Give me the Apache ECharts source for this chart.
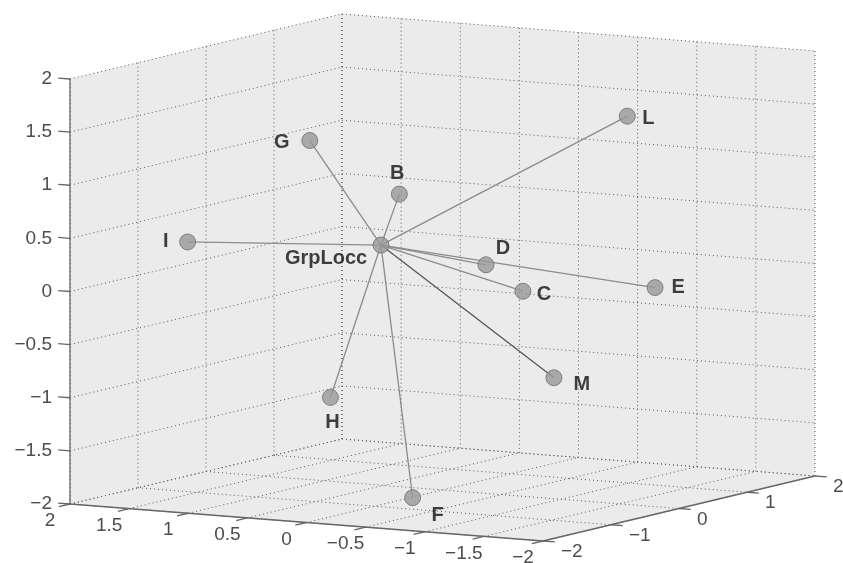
<!DOCTYPE html>
<html><head><meta charset="utf-8">
<script src="https://cdn.jsdelivr.net/npm/echarts@6/dist/echarts.min.js"></script>
<style>html,body{margin:0;padding:0;background:#fff}#c{width:843px;height:563px}</style>
</head><body><div id="c"></div>
<script>
// ---- data ----
const nodeNames = ['GrpLocc', 'G', 'B', 'I', 'L', 'D', 'C', 'E', 'M', 'H', 'F'];
const nodeX = [0.52, 1.41, 0.94, 1.58, -0.70, -0.08, -0.68, -1.51, -1.23, 0.66, -0.61];
const nodeY = [0.00, 0.50, 1.00, -1.00, 1.50, 0.50, 0.00, 0.50, -0.50, -0.50, -1.50];
const nodeZ = [0.26, 1.09, 0.55, 0.35, 1.35, 0.05, -0.07, -0.04, -0.76, -1.11, -1.79];
const edgeFrom = 'GrpLocc';
const edgeTo = ['G', 'B', 'I', 'L', 'D', 'E', 'C', 'M', 'H', 'F'];
const xTicks = [2, 1.5, 1, 0.5, 0, -0.5, -1, -1.5, -2];
const yTicks = [-2, -1, 0, 1, 2];
const zTicks = [-2, -1.5, -1, -0.5, 0, 0.5, 1, 1.5, 2];
const xLim = [-2, 2], yLim = [-2, 2], zLim = [-2, 2];

// ---- view (orthographic projection of 3D data onto the 2D plane) ----
const VIEW = { ux: -1.11294, uy: 0.64, vx: 0.08706, vy: 0.15294, vz: 1 };
const U_RANGE = [-4.16471, 3.76941], V_RANGE = [-2.68706, 2.61176];
function proj(x, y, z) { return [VIEW.ux * x + VIEW.uy * y, VIEW.vx * x + VIEW.vy * y + VIEW.vz * z]; }

// label placement (pixel offsets from the node centre)
const labelOffsets = {
  GrpLocc: [-55, 13], G: [-28, 2], B: [-2, -21], I: [-22, 0], L: [21, 2], D: [17, -16],
  C: [21, 3], E: [23, 0], M: [28, 7], H: [2, 25], F: [25, 18]
};
const FONT = "'Liberation Sans', Arial, Helvetica, sans-serif";
const fmt = v => String(v).replace('-', '\u2212');

const X0 = xLim[1], X1 = xLim[0], Y0 = yLim[0], Y1 = yLim[1], Z0 = zLim[0], Z1 = zLim[1];

// panes
const planes = [
  [[X0, Y0, Z0], [X0, Y1, Z0], [X0, Y1, Z1], [X0, Y0, Z1]],
  [[X0, Y1, Z0], [X1, Y1, Z0], [X1, Y1, Z1], [X0, Y1, Z1]],
  [[X0, Y0, Z0], [X1, Y0, Z0], [X1, Y1, Z0], [X0, Y1, Z0]]
];

// grid segments
const grid = [];
xTicks.forEach(x => { grid.push([[x, Y1, Z0], [x, Y1, Z1]]); grid.push([[x, Y0, Z0], [x, Y1, Z0]]); });
yTicks.forEach(y => { grid.push([[X0, y, Z0], [X0, y, Z1]]); grid.push([[X0, y, Z0], [X1, y, Z0]]); });
zTicks.forEach(z => { grid.push([[X0, Y1, z], [X1, Y1, z]]); grid.push([[X0, Y0, z], [X0, Y1, z]]); });

const axes = [
  [[X0, Y0, Z0], [X0, Y0, Z1]],
  [[X0, Y0, Z0], [X1, Y0, Z0]],
  [[X1, Y0, Z0], [X1, Y1, Z0]]
];
const TL = 0.1, TLY = 0.165;
const ticks = [];
zTicks.forEach(z => ticks.push([[X0, Y0, z], [X0 + TL, Y0, z]]));
xTicks.forEach(x => ticks.push([[x, Y0, Z0], [x, Y0 - TLY, Z0]]));
yTicks.forEach(y => ticks.push([[X1, y, Z0], [X1 - TL, y, Z0]]));

function segData(list) {
  return list.map(s => { const a = proj(...s[0]), b = proj(...s[1]); return [a[0], a[1], b[0], b[1]]; });
}
function segSeries(list, stroke, width, dash, z) {
  return {
    type: 'custom', silent: true, clip: false, z: z, animation: false,
    encode: { x: [0, 2], y: [1, 3] },
    data: segData(list),
    renderItem: (p, api) => {
      const a = api.coord([api.value(0), api.value(1)]), b = api.coord([api.value(2), api.value(3)]);
      return { type: 'line', shape: { x1: a[0], y1: a[1], x2: b[0], y2: b[1] },
        style: { stroke: stroke, lineWidth: width, lineDash: dash } };
    }
  };
}

const planeSeries = {
  type: 'custom', silent: true, clip: false, z: 1, animation: false,
  data: planes.map((pl, i) => [i]),
  renderItem: (p, api) => {
    const pl = planes[api.value(0)];
    const pts = pl.map(c => api.coord(proj(...c)));
    return { type: 'polygon', shape: { points: pts }, style: { fill: '#ebebeb', stroke: '#ebebeb', lineWidth: 0.5 } };
  }
};

// tick labels
const tickLabels = [];
xTicks.forEach(x => tickLabels.push({ p: proj(x, Y0, Z0), t: fmt(x), dx: -20, dy: 17, al: 'center' }));
yTicks.forEach(y => tickLabels.push({ p: proj(X1, y, Z0), t: fmt(y), dx: 18, dy: 11, al: 'left' }));
zTicks.forEach(z => tickLabels.push({ p: proj(X0, Y0, z), t: fmt(z), dx: -18, dy: 0, al: 'right' }));
const tickLabelSeries = {
  type: 'custom', silent: true, clip: false, z: 5, animation: false,
  data: tickLabels.map((t, i) => [t.p[0], t.p[1], i]),
  renderItem: (p, api) => {
    const t = tickLabels[api.value(2)];
    const c = api.coord([api.value(0), api.value(1)]);
    return { type: 'text', x: c[0] + t.dx, y: c[1] + t.dy,
      style: { text: t.t, fill: '#4d4d4d', font: '19px ' + FONT, textAlign: t.al, textVerticalAlign: 'middle' } };
  }
};

const idx = n => nodeNames.indexOf(n);
const nodeP = n => [nodeX[idx(n)], nodeY[idx(n)], nodeZ[idx(n)]];
const edgesLight = edgeTo.filter(n => n !== 'M').map(n => [nodeP(edgeFrom), nodeP(n)]);
const edgesDark = [[nodeP(edgeFrom), nodeP('M')]];

const nodeSeries = {
  type: 'scatter', z: 10, clip: false, animation: false, silent: true,
  symbol: 'circle', symbolSize: 16,
  itemStyle: { color: '#999999', borderColor: '#6f6f6f', borderWidth: 1 },
  label: { show: true, position: 'inside', formatter: '{b}', fontFamily: FONT, fontWeight: 'bold', fontSize: 20, color: '#111' },
  data: nodeNames.map((n, i) => ({ name: n, value: proj(nodeX[i], nodeY[i], nodeZ[i]),
    label: { offset: labelOffsets[n] } }))
};

const chart = echarts.init(document.getElementById('c'), null, { renderer: 'canvas' });
chart.setOption({
  animation: false,
  backgroundColor: '#ffffff',
  grid: { left: 0, right: 0, top: 0, bottom: 0, containLabel: false },
  xAxis: { type: 'value', min: U_RANGE[0], max: U_RANGE[1], show: false },
  yAxis: { type: 'value', min: V_RANGE[0], max: V_RANGE[1], show: false },
  series: [
    planeSeries,
    segSeries(grid, '#5a5a5a', 1, [1, 3], 2),
    segSeries(axes, '#666666', 1.3, null, 3),
    segSeries(ticks, '#666666', 1.3, null, 3),
    tickLabelSeries,
    segSeries(edgesLight, '#8c8c8c', 1.3, null, 6),
    segSeries(edgesDark, '#555555', 1.3, null, 6),
    nodeSeries
  ]
});
</script></body></html>
